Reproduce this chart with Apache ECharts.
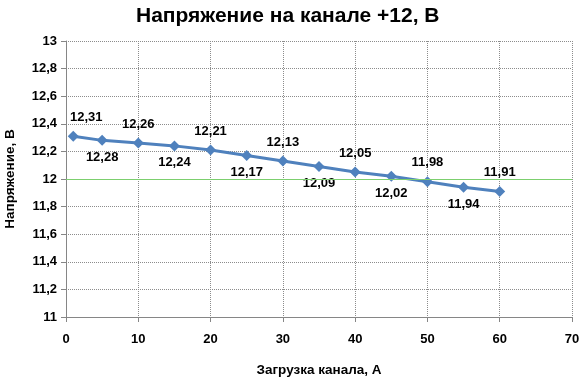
<!DOCTYPE html>
<html><head><meta charset="utf-8">
<script src="https://cdn.jsdelivr.net/npm/echarts@6/dist/echarts.min.js"></script>
<style>html,body{margin:0;padding:0;background:#fff}#c{width:585px;height:381px}</style>
</head><body><div id="c"></div>
<script>
var loadA = [1, 5, 10, 15, 20, 25, 30, 35, 40, 45, 50, 55, 60];
var voltage = [12.31, 12.28, 12.26, 12.24, 12.21, 12.17, 12.13, 12.09, 12.05, 12.02, 11.98, 11.94, 11.91];
var nominal = 12;
var titleText = 'Напряжение на канале +12, В';
var xName = 'Загрузка канала, А';
var yName = 'Напряжение, В';

function fmt(v){ return String(v).replace('.', ','); }
var font = '"Liberation Sans", Arial, sans-serif';

var pts = loadA.map(function(x, i){
  var above = (i % 2 === 0);
  var lbl = {show:true, position: above ? 'top' : 'bottom', distance: above ? 7 : 5,
    formatter: function(p){ return fmt(p.value[1]); },
    color:'#000', fontWeight:'bold', fontSize:13, fontFamily:font};
  if (i === 0) lbl.offset = [13, 0];
  return {value:[x, voltage[i]], label:lbl};
});

var chart = echarts.init(document.getElementById('c'), null, {renderer:'canvas'});
chart.setOption({
  animation:false,
  backgroundColor:'#fff',
  title:{text:titleText, left:131, top:1, textStyle:{fontFamily:font, fontSize:21, fontWeight:'bold', color:'#000'}},
  grid:{left:66, right:13, top:41, bottom:64, containLabel:false, outerBoundsMode:'none'},
  xAxis:{type:'value', min:0, max:70, interval:10,
    name:xName, nameLocation:'middle', nameGap:46,
    nameTextStyle:{fontFamily:font, fontSize:13.5, fontWeight:'bold', color:'#000'},
    axisLine:{lineStyle:{color:'#868686'}},
    axisTick:{show:true, length:5, lineStyle:{color:'#868686'}},
    axisLabel:{fontFamily:font, fontSize:13, fontWeight:'bold', color:'#000', margin:16},
    splitLine:{show:true, lineStyle:{color:'#8c8c8c', type:'dotted'}}
  },
  yAxis:{type:'value', min:11, max:13, interval:0.2,
    name:yName, nameLocation:'middle', nameGap:49, nameRotate:90,
    nameTextStyle:{fontFamily:font, fontSize:13.5, fontWeight:'bold', color:'#000'},
    axisLine:{show:true, lineStyle:{color:'#868686'}},
    axisTick:{show:true, length:5, lineStyle:{color:'#868686'}},
    axisLabel:{fontFamily:font, fontSize:13, fontWeight:'bold', color:'#000', margin:9, formatter:function(v){return fmt(+v.toFixed(1));}},
    splitLine:{show:true, lineStyle:{color:'#8c8c8c', type:'dotted'}}
  },
  series:[{
    type:'line', data:pts, symbol:'diamond', symbolSize:11,
    lineStyle:{color:'#4F81BD', width:3},
    itemStyle:{color:'#4F81BD'},
    markLine:{silent:true, symbol:'none', label:{show:false},
      lineStyle:{color:'#7ccf6e', width:1, type:'solid'},
      data:[{yAxis:nominal}]},
    z:3
  }]
});
</script></body></html>
